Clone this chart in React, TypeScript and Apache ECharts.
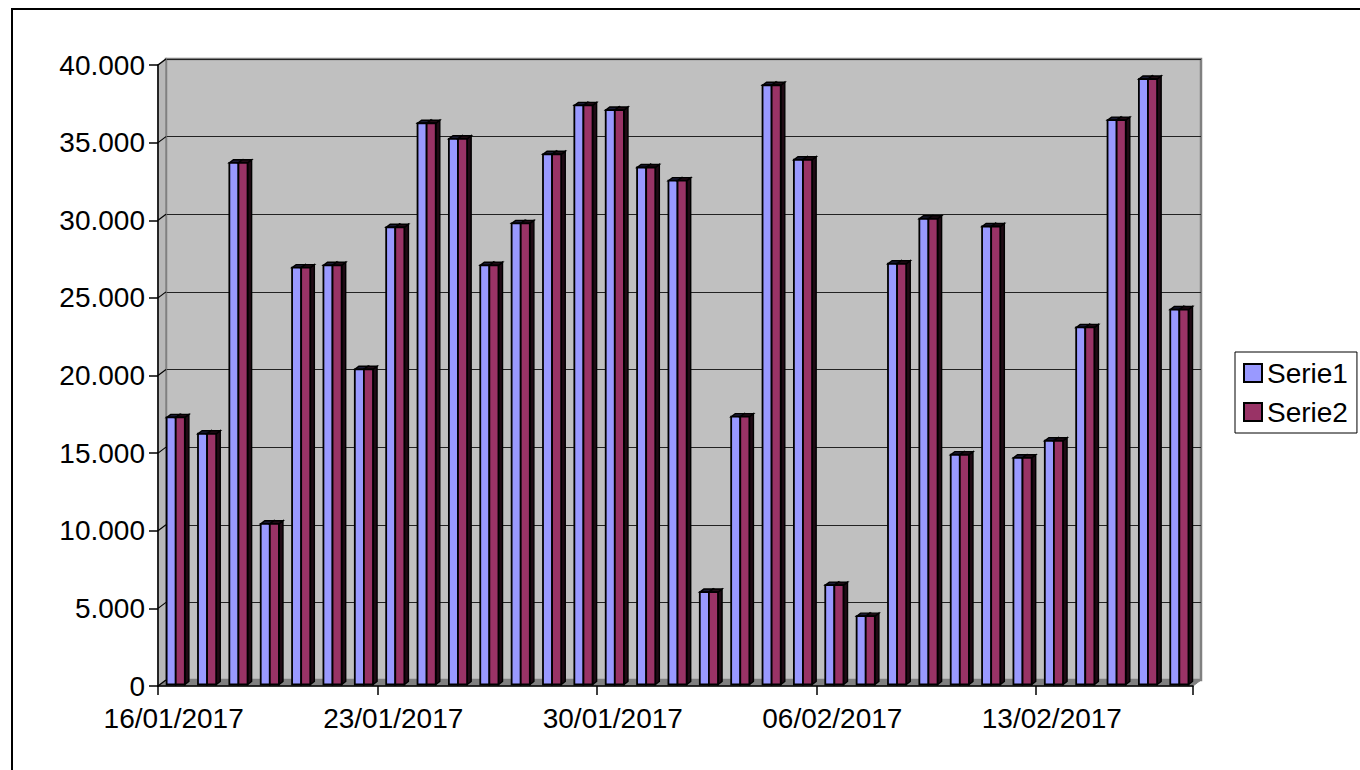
import React, { useEffect, useRef } from "react";
import * as echarts from "echarts";

const categories = [
  "16/01/2017", "17/01/2017", "18/01/2017", "19/01/2017", "20/01/2017", "21/01/2017", "22/01/2017",
  "23/01/2017", "24/01/2017", "25/01/2017", "26/01/2017", "27/01/2017", "28/01/2017", "29/01/2017",
  "30/01/2017", "31/01/2017", "01/02/2017", "02/02/2017", "03/02/2017", "04/02/2017", "05/02/2017",
  "06/02/2017", "07/02/2017", "08/02/2017", "09/02/2017", "10/02/2017", "11/02/2017", "12/02/2017",
  "13/02/2017", "14/02/2017", "15/02/2017", "16/02/2017", "17/02/2017",
];

const serie1 = [
  17200, 16150, 33600, 10350, 26850, 27000, 20300, 29450, 36150, 35150, 27000,
  29700, 34150, 37300, 37000, 33300, 32450, 5950, 17250, 38600, 33800, 6400,
  4400, 27100, 30000, 14800, 29500, 14600, 15700, 23000, 36350, 39000, 24150,
];

const serie2 = [
  17200, 16150, 33600, 10350, 26850, 27000, 20300, 29450, 36150, 35150, 27000,
  29700, 34150, 37300, 37000, 33300, 32450, 5950, 17250, 38600, 33800, 6400,
  4400, 27100, 30000, 14800, 29500, 14600, 15700, 23000, 36350, 39000, 24150,
];

const seriesNames = ["Serie1", "Serie2"];
const seriesColors = ["#9999ff", "#993366"];
const yTicks = [0, 5000, 10000, 15000, 20000, 25000, 30000, 35000, 40000];

const FONT = "'Liberation Sans', Arial, sans-serif";
const FONT_SIZE = 28;
const FRONT_LEFT = 158;
const FRONT_TOP = 65;
const FRONT_W = 1035;
const FRONT_H = 621;
const OX = 8;
const OY = -6;

function fmt(v: number) {
  return String(v).replace(/\B(?=(\d{3})+(?!\d))/g, ".");
}

function makeRender(si: number) {
  return (params: any, api: any) => {
    const idx = api.value(0);
    const v = api.value(1);
    const top = api.coord([idx, v]);
    const base = api.coord([idx, 0]);
    const band = api.size([1, 0])[0];
    const bw = band * 0.29;
    const dx = band * 0.065;
    const dy = -1.5;
    const px = band * 0.13;
    const py = px * 0.75;
    const x0 = top[0] - bw + si * bw + dx;
    const yt = top[1] + dy;
    const yb = base[1] + dy;
    const dark = si === 0 ? "#1a1a33" : "#1f0a14";
    return {
      type: "group",
      children: [
        {
          type: "polygon",
          shape: { points: [[x0 + bw, yt], [x0 + bw + px, yt - py], [x0 + bw + px, yb - py], [x0 + bw, yb]] },
          style: { fill: dark, stroke: "#000", lineWidth: 1.4 },
        },
        {
          type: "polygon",
          shape: { points: [[x0, yt], [x0 + bw, yt], [x0 + bw + px, yt - py], [x0 + px, yt - py]] },
          style: { fill: dark, stroke: "#000", lineWidth: 1.4 },
        },
        {
          type: "rect",
          shape: { x: x0, y: yt, width: bw, height: yb - yt },
          style: { fill: seriesColors[si], stroke: "#000", lineWidth: 1.8 },
        },
      ],
    };
  };
}

export default function App() {
  const ref = useRef<HTMLDivElement>(null);
  useEffect(() => {
    document.body.style.margin = "0";
    const chart = echarts.init(ref.current!, undefined, { renderer: "svg" });
    const datas = [serie1, serie2];
    chart.setOption({
      animation: false,
      backgroundColor: "#fff",
      textStyle: { fontFamily: FONT },
      legend: {
        data: seriesNames,
        orient: "vertical",
        left: 1235,
        top: 352,
        padding: [7, 9, 7, 8],
        itemGap: 11,
        itemWidth: 18,
        itemHeight: 18,
        itemTextGap: 7,
        icon: "rect",
        borderColor: "#000",
        borderWidth: 1,
        itemStyle: { borderColor: "#000", borderWidth: 2 },
        textStyle: { fontSize: FONT_SIZE, color: "#000", fontFamily: FONT },
      },
      grid: [
        { left: FRONT_LEFT, top: FRONT_TOP, width: FRONT_W, height: FRONT_H, outerBoundsMode: "none", containLabel: false },
        {
          left: FRONT_LEFT + OX, top: FRONT_TOP + OY, width: FRONT_W, height: FRONT_H,
          show: true, backgroundColor: "#c0c0c0", borderColor: "#808080", borderWidth: 2.5,
          outerBoundsMode: "none", containLabel: false,
        },
      ],
      xAxis: [
        {
          type: "category", gridIndex: 0, data: categories, boundaryGap: true, z: 10,
          axisLine: { show: true, lineStyle: { color: "#000", width: 1.5 } },
          axisTick: { show: true, interval: 6, length: 9, lineStyle: { color: "#000", width: 1.5 } },
          axisLabel: { interval: 6, fontSize: FONT_SIZE, color: "#000", fontFamily: FONT, margin: 18 },
          splitLine: { show: false },
        },
        {
          type: "category", gridIndex: 1, data: categories, boundaryGap: true,
          axisLine: { show: false }, axisTick: { show: false }, axisLabel: { show: false }, splitLine: { show: false },
        },
      ],
      yAxis: [
        {
          type: "value", gridIndex: 0, min: 0, max: 40000, interval: 5000, z: 10,
          axisLine: { show: true, lineStyle: { color: "#000", width: 1.5 } },
          axisTick: { show: true, length: 9, lineStyle: { color: "#000", width: 1.5 } },
          axisLabel: { fontSize: FONT_SIZE, color: "#000", fontFamily: FONT, margin: 13, formatter: (v: number) => fmt(v) },
          splitLine: { show: false },
        },
        {
          type: "value", gridIndex: 1, min: 0, max: 40000, interval: 5000,
          axisLine: { show: false }, axisTick: { show: false }, axisLabel: { show: false },
          splitLine: { show: true, lineStyle: { color: "#222", width: 1.2 } },
        },
      ],
      series: [0, 1].map((si) => ({
        type: "custom",
        name: seriesNames[si],
        xAxisIndex: 0,
        yAxisIndex: 0,
        z: 5,
        clip: false,
        itemStyle: { color: seriesColors[si] },
        encode: { x: 0, y: 1 },
        data: datas[si].map((v, i) => [i, v]),
        renderItem: makeRender(si),
      })),
    });

    const L = FRONT_LEFT;
    const R = FRONT_LEFT + FRONT_W;
    const B = FRONT_TOP + FRONT_H;
    const T = FRONT_TOP;
    const tickLines = yTicks.map((v) => {
      const y = chart.convertToPixel({ yAxisIndex: 0 }, v) as number;
      return {
        type: "line", z: 3, silent: true,
        shape: { x1: L, y1: y, x2: L + OX, y2: y + OY },
        style: { stroke: "#000", lineWidth: 1.2 },
      };
    });
    chart.setOption({
      graphic: [
        {
          type: "rect", z: 0, silent: true,
          shape: { x: 12, y: 9, width: 1400, height: 800 },
          style: { fill: "none", stroke: "#000", lineWidth: 2 },
        },
        {
          type: "polygon", z: 2, silent: true,
          shape: { points: [[L, T], [L + OX, T + OY], [L + OX, B + OY], [L, B]] },
          style: { fill: "#b8b8b8", stroke: "#808080", lineWidth: 1.5 },
        },
        {
          type: "polygon", z: 2, silent: true,
          shape: { points: [[L, B], [R, B], [R + OX, B + OY], [L + OX, B + OY]] },
          style: { fill: "#808080", stroke: "#808080", lineWidth: 1 },
        },
        ...tickLines,
      ],
    });
    return () => chart.dispose();
  }, []);
  return <div ref={ref} style={{ width: 1360, height: 770 }} />;
}
